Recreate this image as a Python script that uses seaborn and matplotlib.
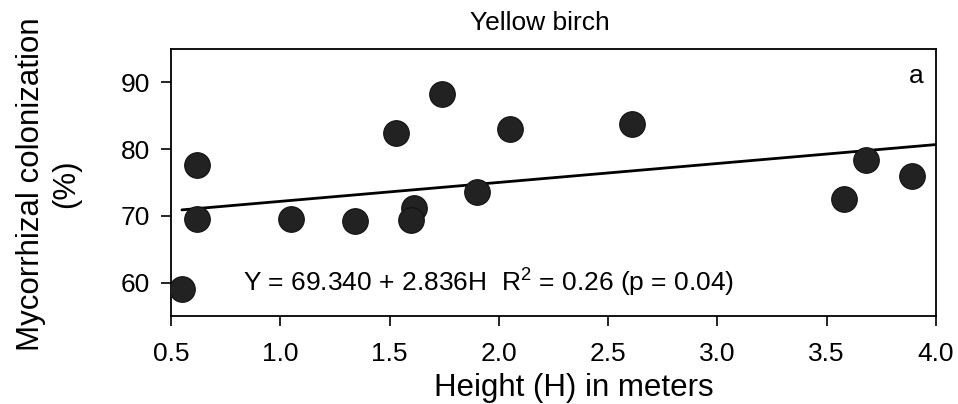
import numpy as np
import pandas as pd
import matplotlib
matplotlib.use("Agg")
import matplotlib.pyplot as plt
import seaborn as sns

# ---- data ----
height_m = [0.55, 0.62, 0.62, 1.05, 1.34, 1.53, 1.61, 1.60, 1.74, 1.90, 2.05, 2.61, 3.58, 3.68, 3.89]
colonization = [59.0, 77.6, 69.5, 69.5, 69.2, 82.4, 71.2, 69.4, 88.2, 73.6, 83.0, 83.8, 72.5, 78.4, 76.0]
intercept = 69.340
slope = 2.836
fit_range = [0.55, 4.0]
x_ticks = [0.5, 1.0, 1.5, 2.0, 2.5, 3.0, 3.5, 4.0]
y_ticks = [60, 70, 80, 90]
title = "Yellow birch"
panel = "a"

sns.set_style("ticks")
plt.rcParams['font.family'] = ['Liberation Sans', 'DejaVu Sans']
plt.rcParams['mathtext.fontset'] = 'custom'
plt.rcParams['mathtext.rm'] = 'Liberation Sans'
plt.rcParams['mathtext.it'] = 'Liberation Sans:italic'
for k in ['text.color', 'axes.labelcolor', 'xtick.color', 'ytick.color', 'axes.edgecolor']:
    plt.rcParams[k] = 'black'

df = pd.DataFrame({"H": height_m, "Y": colonization})
fit_df = pd.DataFrame({"H": fit_range})
fit_df["Y"] = intercept + slope * fit_df["H"]

fig = plt.figure(figsize=(9.58, 4.04), dpi=100)
ax = fig.add_axes([0.1785, 0.2178, 0.977 - 0.1785, 0.8787 - 0.2178])

sns.lineplot(data=fit_df, x="H", y="Y", ax=ax, color="black", linewidth=2.0)
sns.scatterplot(data=df, x="H", y="Y", ax=ax, s=340, color="#222222",
                edgecolor="#111111", linewidth=0.8, zorder=3)

ax.set_xlim(0.5, 4.0)
ax.set_ylim(55, 95)
ax.set_xticks(x_ticks)
ax.set_xticklabels([f"{t:.1f}" for t in x_ticks])
ax.set_yticks(y_ticks)
ax.tick_params(axis="both", direction="out", length=7, width=1.2,
               labelsize=19, colors="black")
ax.tick_params(axis="x", pad=12)
ax.tick_params(axis="y", pad=8)
for sp in ax.spines.values():
    sp.set_visible(True)
    sp.set_linewidth(1.3)
    sp.set_color("black")

ax.set_xlabel("Height (H) in meters", fontsize=22.5, va="bottom")
ax.xaxis.set_label_coords((574 - 171) / 765, -0.324)
ax.set_ylabel("Mycorrhizal colonization\n(%)", fontsize=22.5, linespacing=1.25)
ax.yaxis.set_label_coords(-0.117, 0.494)

ax.set_title(title, fontsize=19, x=0.482, pad=14)
ax.text(0.974, 0.90, panel, transform=ax.transAxes, fontsize=19,
        ha="center", va="center")
ax.text(0.83, 58.65,
        f"Y = {intercept:.3f} + {slope:.3f}H  R$^2$ = 0.26 (p = 0.04)",
        fontsize=19, ha="left", va="baseline")

fig.savefig("out.png", dpi=100)
